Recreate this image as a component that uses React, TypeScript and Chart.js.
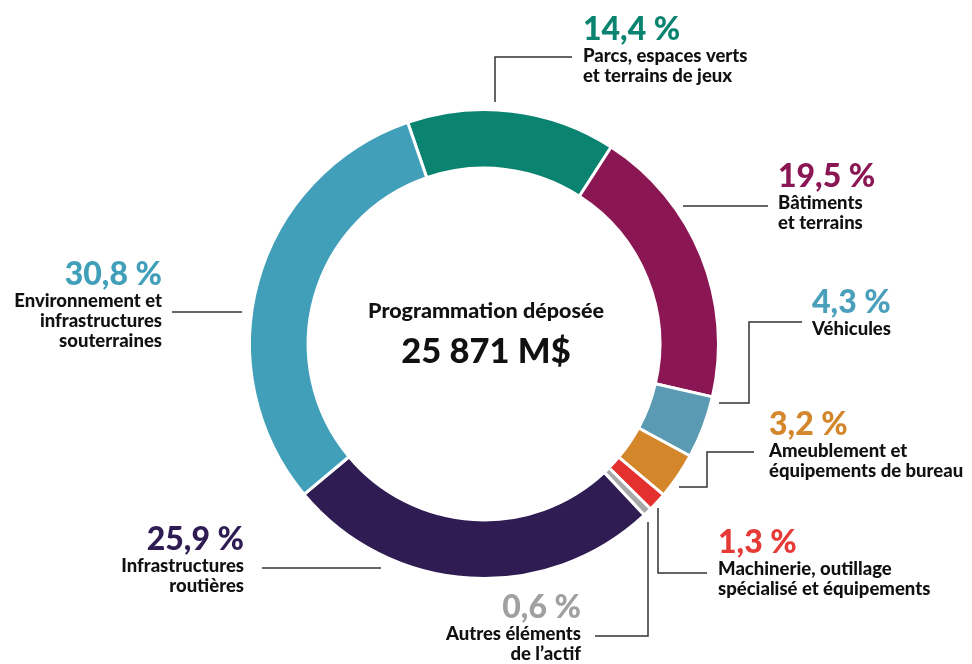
import React, { useEffect, useRef } from "react";
import { Chart, registerables } from "chart.js";

Chart.register(...registerables);

const CATEGORIES: string[][] = [
  ["Parcs, espaces verts", "et terrains de jeux"],
  ["Bâtiments", "et terrains"],
  ["Véhicules"],
  ["Ameublement et", "équipements de bureau"],
  ["Machinerie, outillage", "spécialisé et équipements"],
  ["Autres éléments", "de l’actif"],
  ["Infrastructures", "routières"],
  ["Environnement et", "infrastructures", "souterraines"],
];
const VALUES: number[] = [14.4, 19.5, 4.3, 3.2, 1.3, 0.6, 25.9, 30.8];
const COLORS: string[] = [
  "#0a8470",
  "#8b1654",
  "#5a9ab2",
  "#d4862b",
  "#e4312f",
  "#a8a8a8",
  "#2e1c52",
  "#419fba",
];
const LABEL_COLORS: string[] = [
  "#0a8470",
  "#8b1654",
  "#4aa0bb",
  "#d4862b",
  "#e63a36",
  "#a0a0a0",
  "#2e1c52",
  "#419fba",
];
const CENTER_TITLE = "Programmation déposée";
const CENTER_TOTAL = "25 871 M$";

// Annotation layout, offsets relative to the doughnut centre
const LABEL_LAYOUT: { dx: number; dy: number; align: CanvasTextAlign }[] = [
  { dx: 99, dy: -304, align: "left" },
  { dx: 294, dy: -157, align: "left" },
  { dx: 328, dy: -31, align: "left" },
  { dx: 285, dy: 91, align: "left" },
  { dx: 234, dy: 209, align: "left" },
  { dx: 97, dy: 274, align: "right" },
  { dx: -240, dy: 206, align: "right" },
  { dx: -322, dy: -59, align: "right" },
];
const LEADERS: number[][][] = [
  [[11, -242], [11, -287], [88, -287]],
  [[199, -138], [284, -138]],
  [[235, 59], [265, 59], [265, -22], [318, -22]],
  [[195, 143], [223, 143], [223, 108], [270, 108]],
  [[174, 164], [174, 229], [223, 229]],
  [[164, 178], [164, 292], [111, 292]],
  [[-103, 224], [-222, 224]],
  [[-242, -32], [-312, -32]],
];

const FONT = "Lato, 'Open Sans', sans-serif";

const fmt = (v: number) => v.toFixed(1).replace(".", ",") + " %";

const annotations = {
  id: "annotations",
  afterDraw(chart: any) {
    const meta = chart.getDatasetMeta(0);
    const arc = meta.data[0];
    if (!arc) return;
    const cx = arc.x;
    const cy = arc.y;
    const ctx: CanvasRenderingContext2D = chart.ctx;
    ctx.save();
    // leaders
    ctx.strokeStyle = "#333";
    ctx.lineWidth = 1.5;
    LEADERS.forEach((pts) => {
      ctx.beginPath();
      pts.forEach((p, i) => {
        const x = cx + p[0];
        const y = cy + p[1];
        if (i === 0) ctx.moveTo(x, y);
        else ctx.lineTo(x, y);
      });
      ctx.stroke();
    });
    // labels
    VALUES.forEach((v, i) => {
      const lay = LABEL_LAYOUT[i];
      const x = cx + lay.dx;
      const y = cy + lay.dy;
      ctx.textAlign = lay.align;
      ctx.textBaseline = "alphabetic";
      ctx.fillStyle = LABEL_COLORS[i];
      ctx.font = `900 32px ${FONT}`;
      ctx.fillText(fmt(v), x, y);
      ctx.fillStyle = "#111";
      ctx.font = `900 18.5px ${FONT}`;
      CATEGORIES[i].forEach((line, j) => {
        ctx.fillText(line, x, y + 22 + j * 20);
      });
    });
    // centre
    ctx.textAlign = "center";
    ctx.fillStyle = "#111";
    ctx.font = `900 21.5px ${FONT}`;
    ctx.fillText(CENTER_TITLE, cx + 2, cy - 26);
    ctx.font = `900 34.5px ${FONT}`;
    ctx.fillText(CENTER_TOTAL, cx + 2, cy + 19);
    ctx.restore();
  },
};

export default function App() {
  const ref = useRef<HTMLCanvasElement | null>(null);
  useEffect(() => {
    document.body.style.margin = "0";
    const canvas = ref.current;
    if (!canvas) return;
    const chart = new Chart(canvas, {
      type: "doughnut",
      data: {
        labels: CATEGORIES.map((c) => c.join(" ")),
        datasets: [
          {
            data: VALUES,
            backgroundColor: COLORS,
            borderColor: "#ffffff",
            borderWidth: 3,
          },
        ],
      },
      options: {
        responsive: false,
        animation: false,
        rotation: -19,
        cutout: "75%",
        layout: { padding: { left: 248, right: 252, top: 108, bottom: 84 } },
        plugins: {
          legend: { display: false },
          tooltip: { enabled: false },
        },
      },
      plugins: [annotations],
    });
    return () => chart.destroy();
  }, []);
  return (
    <div style={{ width: 972, height: 664, background: "#fff" }}>
      <canvas ref={ref} width={972} height={664} style={{ display: "block" }} />
    </div>
  );
}
